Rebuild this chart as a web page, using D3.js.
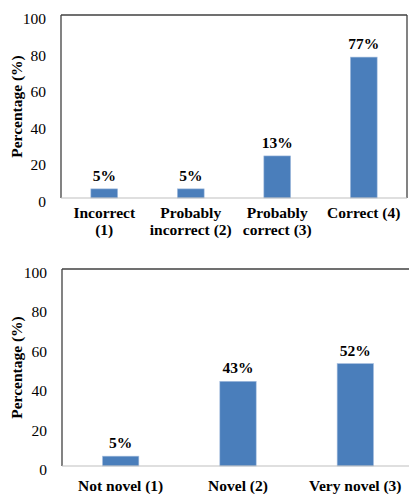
<!DOCTYPE html>
<html><head><meta charset="utf-8">
<script src="https://cdn.jsdelivr.net/npm/d3@7"></script>
<style>body{margin:0;background:#fff}svg{display:block}</style>
</head><body>
<script>
const cats1 = ["Incorrect|(1)", "Probably|incorrect (2)", "Probably|correct (3)", "Correct (4)"];
const vals1 = [5, 5, 23, 77];
const labels1 = ["5%", "5%", "13%", "77%"];
const cats2 = ["Not novel (1)", "Novel (2)", "Very novel (3)"];
const vals2 = [5, 43, 52];
const labels2 = ["5%", "43%", "52%"];
const yTicks = [0, 20, 40, 60, 80, 100];

const W = 409, H = 494;
const svg = d3.select("body").append("svg").attr("width", W).attr("height", H);
const font = "'Liberation Serif','Times New Roman',serif";

function chart(cfg) {
  const g = svg.append("g");
  const x = d3.scaleBand().domain(cfg.cats).range([cfg.left, cfg.right]).paddingInner(0.69).paddingOuter(0.345);
  const y = d3.scaleLinear().domain([0, 100]).range([cfg.bottom, cfg.top]);
  // frame
  g.append("line").attr("x1", cfg.left).attr("x2", cfg.left).attr("y1", cfg.top).attr("y2", cfg.bottom).attr("stroke", "#404040").attr("stroke-width", 1.3);
  g.append("line").attr("x1", cfg.left).attr("x2", cfg.right).attr("y1", cfg.top).attr("y2", cfg.top).attr("stroke", "#404040").attr("stroke-width", 1.3);
  g.append("line").attr("x1", cfg.right).attr("x2", cfg.right).attr("y1", cfg.top).attr("y2", cfg.bottom).attr("stroke", "#404040").attr("stroke-width", 1.3);
  // y ticks
  const ya = d3.axisLeft(y).tickValues(yTicks).tickSize(0).tickPadding(15);
  const yg = g.append("g").attr("transform", `translate(${cfg.left},0)`).call(ya);
  yg.select(".domain").remove();
  yg.selectAll("text").attr("font-family", font).attr("font-size", 15.5).attr("fill", "#000").attr("dy", "0.55em");
  // bars
  g.selectAll("rect").data(cfg.vals).join("rect")
    .attr("x", (d, i) => x(cfg.cats[i])).attr("width", x.bandwidth())
    .attr("y", d => y(d)).attr("height", d => cfg.bottom - y(d))
    .attr("fill", "#4a7ebb").attr("stroke", "#a9c0e0").attr("stroke-width", 0.6);
  // baseline
  g.append("line").attr("x1", cfg.left).attr("x2", cfg.right).attr("y1", cfg.bottom).attr("y2", cfg.bottom).attr("stroke", "#bfbfbf").attr("stroke-width", 1);
  // value labels
  g.selectAll("text.val").data(cfg.vals).join("text").attr("class", "val")
    .attr("x", (d, i) => x(cfg.cats[i]) + x.bandwidth() / 2).attr("y", d => y(d) - 8)
    .attr("text-anchor", "middle").attr("font-family", font).attr("font-weight", "bold").attr("font-size", 15.5)
    .text((d, i) => cfg.labels[i]);
  // category labels
  cfg.cats.forEach(c => {
    const lines = c.split("|");
    const t = g.append("text").attr("text-anchor", "middle").attr("font-family", font).attr("font-weight", "bold").attr("font-size", 15.5)
      .attr("x", x(c) + x.bandwidth() / 2).attr("y", cfg.bottom + cfg.catOff);
    lines.forEach((l, k) => t.append("tspan").attr("x", x(c) + x.bandwidth() / 2).attr("dy", k ? 16.5 : 0).text(l));
  });
  // y title
  g.append("text").attr("transform", `translate(22,${(cfg.top + cfg.bottom) / 2}) rotate(-90)`)
    .attr("text-anchor", "middle").attr("font-family", font).attr("font-weight", "bold").attr("font-size", 15.5)
    .text("Percentage (%)");
}

chart({cats: cats1, vals: vals1, labels: labels1, left: 61, right: 407, top: 15, bottom: 198, catOff: 20});
chart({cats: cats2, vals: vals2, labels: labels2, left: 62, right: 414, top: 269, bottom: 466, catOff: 25});
</script>
</body></html>
